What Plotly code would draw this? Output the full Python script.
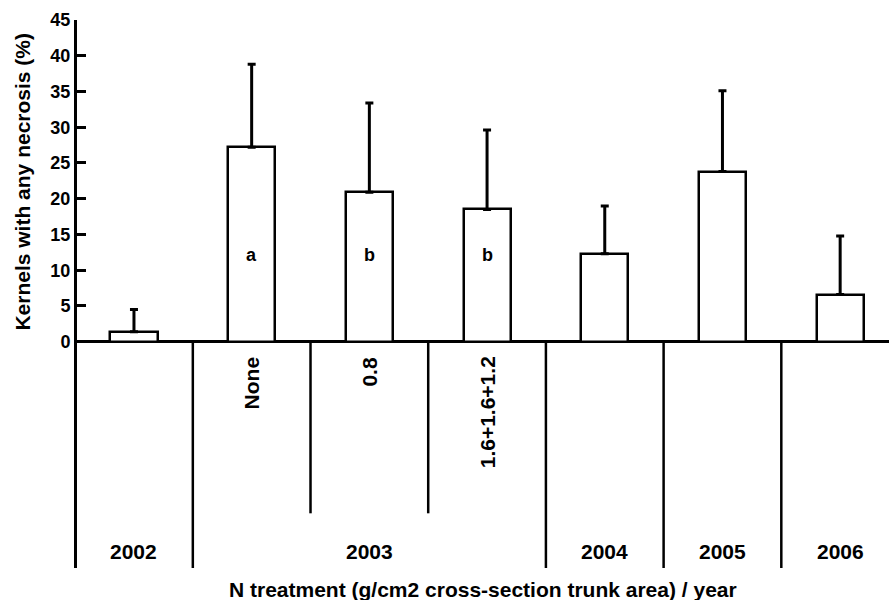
import plotly.graph_objects as go

# ---- data ----
treatments = ["", "None", "0.8", "1.6+1.6+1.2", "", "", ""]
means = [1.4, 27.2, 20.9, 18.5, 12.3, 23.8, 6.6]
sd = [3.1, 11.6, 12.5, 11.1, 6.7, 11.3, 8.2]
letters = ["", "a", "b", "b", "", "", ""]
years = ["2002", "2003", "2004", "2005", "2006"]
year_members = [[0], [1, 2, 3], [4], [5], [6]]
y_ticks = [0, 5, 10, 15, 20, 25, 30, 35, 40, 45]

FONT = "Liberation Sans"
x = list(range(len(means)))
Y_BOTTOM = -31.65
Y_SHORT = -24.0

fig = go.Figure()
fig.add_trace(go.Bar(
    x=x, y=means, width=0.4,
    marker=dict(color="white", line=dict(color="black", width=2.5)),
    error_y=dict(type="data", array=sd, arrayminus=[0] * len(sd), symmetric=False,
                 color="black", thickness=3, width=4),
    showlegend=False, hoverinfo="skip",
))

shapes = []
annotations = []
# separators between categories
for i in range(len(x) - 1):
    xm = (x[i] + x[i + 1]) / 2
    same_year = any(i in g and (i + 1) in g for g in year_members)
    shapes.append(dict(type="line", xref="x", yref="y", x0=xm, x1=xm, y0=0,
                       y1=Y_SHORT if same_year else Y_BOTTOM,
                       line=dict(color="black", width=2.5), layer="above"))

# treatment labels (rotated)
for xi, t in zip(x, treatments):
    if t:
        annotations.append(dict(x=xi, y=-1.75, xref="x", yref="y", text=t, showarrow=False,
                                textangle=-90, xanchor="center", yanchor="top",
                                font=dict(family=FONT, size=21, color="black", weight="bold")))
# significance letters
for xi, l in zip(x, letters):
    if l:
        annotations.append(dict(x=xi, y=12.1, xref="x", yref="y", text=l, showarrow=False,
                                font=dict(family=FONT, size=18, color="black", weight="bold")))
# year labels
for yr, g in zip(years, year_members):
    xc = (min(g) + max(g)) / 2
    annotations.append(dict(x=xc, y=-29.3, xref="x", yref="y", text=yr, showarrow=False,
                            xanchor="center", yanchor="middle",
                            font=dict(family=FONT, size=21, color="black", weight="bold")))
# axis titles
annotations.append(dict(x=-0.0665, y=22.4, xref="paper", yref="y",
                        text="Kernels with any necrosis (%)", showarrow=False, textangle=-90,
                        xanchor="center", yanchor="middle",
                        font=dict(family=FONT, size=21, color="black", weight="bold")))
annotations.append(dict(x=0.5, y=-0.0146, xref="paper", yref="paper",
                        text="N treatment (g/cm2 cross-section trunk area) / year",
                        showarrow=False, xanchor="center", yanchor="top",
                        font=dict(family=FONT, size=21, color="black", weight="bold")))

fig.update_layout(
    width=889, height=600,
    margin=dict(l=77, r=0, t=20, b=32),
    plot_bgcolor="white", paper_bgcolor="white",
    shapes=shapes, annotations=annotations,
    xaxis=dict(range=[-0.484, 6.415], showticklabels=False, showgrid=False,
               zeroline=False, showline=False, ticks=""),
    yaxis=dict(range=[Y_BOTTOM, 45], tickvals=y_ticks, ticks="inside", ticklen=9,
               tickwidth=3, tickcolor="black", showline=True, linewidth=3, linecolor="black",
               showgrid=False, zeroline=True, zerolinewidth=3, zerolinecolor="black",
               automargin=False,
               tickfont=dict(family=FONT, size=18, color="black", weight="bold")),
    bargap=0,
)

fig.write_html("out.html", config={"displayModeBar": False},
               post_script="document.body.style.margin='0';document.body.style.overflow='hidden';")
